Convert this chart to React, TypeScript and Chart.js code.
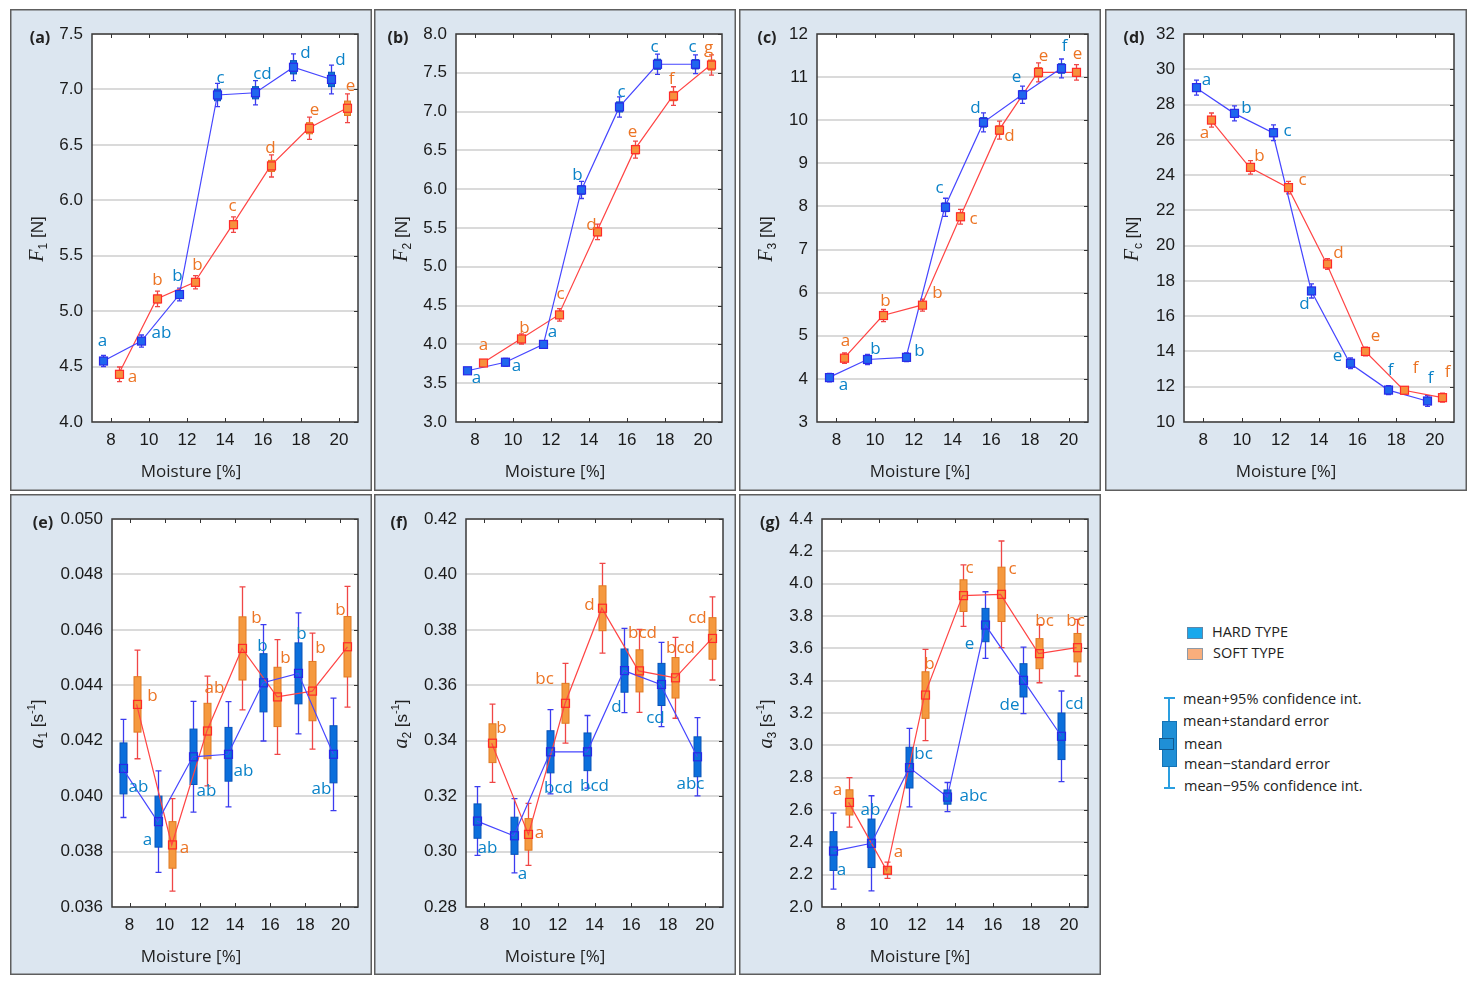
import React, { useEffect, useRef } from 'react';
import { Chart, registerables } from 'chart.js';

Chart.register(...registerables);

// moisture levels [%], hard type drawn left of the level, soft type right of it
const moisture = [8, 10, 12, 14, 16, 18, 20];
const xTicks = [8, 10, 12, 14, 16, 18, 20];

// (a) F1 [N]
const f1Ticks = [4.0, 4.5, 5.0, 5.5, 6.0, 6.5, 7.0, 7.5];
const f1Hard = [4.55, 4.73, 5.15, 6.95, 6.97, 7.2, 7.09];
const f1HardSe = [0.025, 0.028, 0.03, 0.052, 0.055, 0.06, 0.065];
const f1HardCi = [0.05, 0.055, 0.057, 0.105, 0.11, 0.12, 0.13];
const f1Soft = [4.43, 5.11, 5.26, 5.78, 6.31, 6.65, 6.83];
const f1SoftSe = [0.033, 0.035, 0.03, 0.035, 0.05, 0.05, 0.065];
const f1SoftCi = [0.066, 0.07, 0.06, 0.07, 0.1, 0.1, 0.13];
const f1HardLetters = ['a', 'ab', 'b', 'c', 'cd', 'd', 'd'];
const f1SoftLetters = ['a', 'b', 'b', 'c', 'd', 'e', 'e'];

// (b) F2 [N]
const f2Ticks = [3.0, 3.5, 4.0, 4.5, 5.0, 5.5, 6.0, 6.5, 7.0, 7.5, 8.0];
const f2Hard = [3.66, 3.77, 4.0, 5.99, 7.06, 7.61, 7.61];
const f2HardSe = [0.02, 0.025, 0.022, 0.055, 0.065, 0.065, 0.06];
const f2HardCi = [0.04, 0.05, 0.045, 0.11, 0.13, 0.13, 0.12];
const f2Soft = [3.76, 4.07, 4.38, 5.45, 6.51, 7.2, 7.6];
const f2SoftSe = [0.02, 0.033, 0.04, 0.05, 0.055, 0.06, 0.065];
const f2SoftCi = [0.04, 0.065, 0.08, 0.1, 0.11, 0.12, 0.13];
const f2HardLetters = ['a', 'a', 'a', 'b', 'c', 'c', 'c'];
const f2SoftLetters = ['a', 'b', 'c', 'd', 'e', 'f', 'g'];

// (c) F3 [N]
const f3Ticks = [3, 4, 5, 6, 7, 8, 9, 10, 11, 12];
const f3Hard = [4.03, 4.45, 4.5, 7.98, 9.95, 10.59, 11.2];
const f3HardSe = [0.05, 0.06, 0.05, 0.1, 0.11, 0.1, 0.11];
const f3HardCi = [0.1, 0.12, 0.1, 0.21, 0.22, 0.2, 0.22];
const f3Soft = [4.48, 5.47, 5.71, 7.76, 9.77, 11.11, 11.11];
const f3SoftSe = [0.06, 0.07, 0.07, 0.085, 0.1, 0.11, 0.09];
const f3SoftCi = [0.12, 0.14, 0.14, 0.17, 0.21, 0.22, 0.18];
const f3HardLetters = ['a', 'b', 'b', 'c', 'd', 'e', 'f'];
const f3SoftLetters = ['a', 'b', 'b', 'c', 'd', 'e', 'e'];

// (d) Fc [N]
const fcTicks = [10, 12, 14, 16, 18, 20, 22, 24, 26, 28, 30, 32];
const fcHard = [28.96, 27.5, 26.4, 17.43, 13.33, 11.81, 11.19];
const fcHardSe = [0.2, 0.2, 0.22, 0.2, 0.15, 0.12, 0.15];
const fcHardCi = [0.43, 0.43, 0.45, 0.4, 0.3, 0.25, 0.3];
const fcSoft = [27.12, 24.44, 23.29, 18.96, 14.0, 11.8, 11.38];
const fcSoftSe = [0.2, 0.19, 0.17, 0.15, 0.12, 0.1, 0.12];
const fcSoftCi = [0.4, 0.38, 0.35, 0.3, 0.25, 0.2, 0.25];
const fcHardLetters = ['a', 'b', 'c', 'd', 'e', 'f', 'f'];
const fcSoftLetters = ['a', 'b', 'c', 'd', 'e', 'f', 'f'];

// (e) a1 [s-1]
const a1Ticks = [0.036, 0.038, 0.04, 0.042, 0.044, 0.046, 0.048, 0.05];
const a1Hard = [0.041, 0.03908, 0.04142, 0.04151, 0.04409, 0.04443, 0.04151];
const a1HardSe = [0.00092, 0.00092, 0.001, 0.00097, 0.00105, 0.0011, 0.00103];
const a1HardCi = [0.00177, 0.00183, 0.002, 0.0019, 0.0021, 0.00218, 0.00203];
const a1Soft = [0.04331, 0.03824, 0.04235, 0.04533, 0.04358, 0.04379, 0.04539];
const a1SoftSe = [0.001, 0.00084, 0.001, 0.00114, 0.00107, 0.00107, 0.00109];
const a1SoftCi = [0.00196, 0.00167, 0.00198, 0.00222, 0.00207, 0.00209, 0.00218];
const a1HardLetters = ['ab', 'a', 'ab', 'ab', 'b', 'b', 'ab'];
const a1SoftLetters = ['b', 'a', 'ab', 'b', 'b', 'b', 'b'];

// (f) a2 [s-1]
const a2Ticks = [0.28, 0.3, 0.32, 0.34, 0.36, 0.38, 0.4, 0.42];
const a2Hard = [0.311, 0.3057, 0.336, 0.336, 0.3653, 0.3603, 0.3342];
const a2HardSe = [0.0062, 0.0067, 0.0076, 0.0068, 0.0078, 0.0076, 0.0072];
const a2HardCi = [0.0124, 0.0134, 0.0152, 0.0131, 0.0152, 0.0152, 0.0141];
const a2Soft = [0.3391, 0.3062, 0.3535, 0.3878, 0.3652, 0.3627, 0.3769];
const a2SoftSe = [0.007, 0.0057, 0.0072, 0.0081, 0.0076, 0.0073, 0.0075];
const a2SoftCi = [0.0141, 0.0112, 0.0144, 0.0162, 0.015, 0.0146, 0.015];
const a2HardLetters = ['ab', 'a', 'bcd', 'bcd', 'd', 'cd', 'abc'];
const a2SoftLetters = ['b', 'a', 'bc', 'd', 'bcd', 'bcd', 'cd'];

// (g) a3 [s-1]
const a3Ticks = [2.0, 2.2, 2.4, 2.6, 2.8, 3.0, 3.2, 3.4, 3.6, 3.8, 4.0, 4.2, 4.4];
const a3Hard = [2.346, 2.394, 2.862, 2.68, 3.744, 3.402, 3.056];
const a3HardSe = [0.12, 0.15, 0.126, 0.044, 0.103, 0.103, 0.144];
const a3HardCi = [0.235, 0.294, 0.243, 0.09, 0.206, 0.206, 0.28];
const a3Soft = [2.647, 2.227, 3.311, 3.926, 3.934, 3.567, 3.604];
const a3SoftSe = [0.078, 0.022, 0.144, 0.098, 0.168, 0.093, 0.088];
const a3SoftCi = [0.153, 0.05, 0.282, 0.19, 0.33, 0.18, 0.175];
const a3HardLetters = ['a', 'ab', 'bc', 'abc', 'e', 'de', 'cd'];
const a3SoftLetters = ['a', 'a', 'b', 'c', 'c', 'bc', 'bc'];

// letter placement relative to the mean marker, px
const aHardOff = [[-1, -20], [20, -8], [-2, -18], [3, -17], [7, -19], [12, -14], [9, -19]];
const aSoftOff = [[13, 3], [0, -19], [2, -17], [-1, -19], [-1, -18], [5, -18], [3, -22]];
const bHardOff = [[9, 7], [11, 4], [9, -12], [-4, -15], [2, -15], [-3, -17], [-3, -17]];
const bSoftOff = [[0, -18], [3, -11], [1, -21], [-6, -7], [-3, -17], [-2, -17], [-3, -17]];
const cHardOff = [[14, 8], [8, -10], [13, -6], [-6, -19], [-8, -14], [-6, -18], [3, -22]];
const cSoftOff = [[1, -17], [2, -14], [15, -12], [13, 2], [10, 6], [5, -16], [1, -18]];
const dHardOff = [[10, -7], [12, -5], [14, -2], [-7, 13], [-13, -7], [2, -20], [3, -23]];
const dSoftOff = [[-7, 13], [9, -11], [14, -7], [11, -11], [10, -15], [11, -22], [5, -26]];
const eHardOff = [[15, 19], [-11, 19], [13, 34], [15, 17], [-1, -37], [3, -39], [-12, 35]];
const eSoftOff = [[15, -8], [12, 3], [7, -43], [14, -30], [8, -39], [8, -43], [-7, -37]];
const fHardOff = [[10, 27], [8, 38], [8, 36], [7, 34], [-8, 37], [-6, 34], [-7, 27]];
const fSoftOff = [[9, -15], [11, -1], [-21, -24], [-13, -3], [3, -38], [5, -30], [-15, -20]];
const gHardOff = [[8, 19], [-1, -33], [14, -13], [26, -1], [-16, 19], [-14, 25], [13, -32]];
const gSoftOff = [[-12, -12], [11, -18], [4, -31], [6, -27], [11, -25], [5, -33], [-2, -27]];

const SHIFT = 0.4;
const SANS = '"Liberation Sans", Arial, sans-serif';
const UI = '"Open Sans", "Noto Sans", sans-serif';
const SERIF = '"Liberation Serif", "DejaVu Serif", serif';

const HARD = {
  line: '#4646ff', whisker: '#3c3cf0', box: '#0b6fdc', boxEdge: '#0a55b8',
  marker: '#2a2ae8', markerFill: '#1f67ee', text: '#0a82c8',
};
const SOFT = {
  line: '#ff4444', whisker: '#f04646', box: '#f5993f', boxEdge: '#e07a22',
  marker: '#ff2a2a', markerFill: '#f7903c', text: '#ec7424',
};

type Run = { t: string; font: string; dy: number };
type Series = { mean: number[]; se: number[]; ci: number[]; letters: string[]; off: number[][] };
type Panel = {
  id: string; kind: 'force' | 'rate'; ticks: number[]; dec: number; title: Run[];
  hard: Series; soft: Series;
  box: { x: number; y: number; w: number; h: number };
  plot: { l: number; r: number; t: number; b: number };
  labelX: number;
};

const forceTitle = (sub: string): Run[] => [
  { t: 'F', font: `italic 20px ${SERIF}`, dy: 0 },
  { t: sub, font: `12px ${SANS}`, dy: 4 },
  { t: ' [N]', font: `17px ${SANS}`, dy: 0 },
];
const rateTitle = (sub: string): Run[] => [
  { t: 'a', font: `italic 20px ${SERIF}`, dy: 0 },
  { t: sub, font: `12px ${SANS}`, dy: 4 },
  { t: ' [s', font: `17px ${SANS}`, dy: 0 },
  { t: '-1', font: `11px ${SANS}`, dy: -8 },
  { t: ']', font: `17px ${SANS}`, dy: 0 },
];

const top = { y: 9, w: 362, h: 482 };
const bot = { y: 494, w: 362, h: 481 };

const panels: Panel[] = [
  {
    id: 'a', kind: 'force', ticks: f1Ticks, dec: 1, title: forceTitle('1'),
    hard: { mean: f1Hard, se: f1HardSe, ci: f1HardCi, letters: f1HardLetters, off: aHardOff },
    soft: { mean: f1Soft, se: f1SoftSe, ci: f1SoftCi, letters: f1SoftLetters, off: aSoftOff },
    box: { x: 10, ...top }, plot: { l: 92, r: 358, t: 34, b: 422 }, labelX: 30,
  },
  {
    id: 'b', kind: 'force', ticks: f2Ticks, dec: 1, title: forceTitle('2'),
    hard: { mean: f2Hard, se: f2HardSe, ci: f2HardCi, letters: f2HardLetters, off: bHardOff },
    soft: { mean: f2Soft, se: f2SoftSe, ci: f2SoftCi, letters: f2SoftLetters, off: bSoftOff },
    box: { x: 374, ...top }, plot: { l: 456, r: 722, t: 34, b: 422 }, labelX: 24,
  },
  {
    id: 'c', kind: 'force', ticks: f3Ticks, dec: 0, title: forceTitle('3'),
    hard: { mean: f3Hard, se: f3HardSe, ci: f3HardCi, letters: f3HardLetters, off: cHardOff },
    soft: { mean: f3Soft, se: f3SoftSe, ci: f3SoftCi, letters: f3SoftLetters, off: cSoftOff },
    box: { x: 739, ...top }, plot: { l: 817, r: 1088, t: 34, b: 422 }, labelX: 28,
  },
  {
    id: 'd', kind: 'force', ticks: fcTicks, dec: 0, title: forceTitle('c'),
    hard: { mean: fcHard, se: fcHardSe, ci: fcHardCi, letters: fcHardLetters, off: dHardOff },
    soft: { mean: fcSoft, se: fcSoftSe, ci: fcSoftCi, letters: fcSoftLetters, off: dSoftOff },
    box: { x: 1105, ...top }, plot: { l: 1184, r: 1454, t: 34, b: 422 }, labelX: 29,
  },
  {
    id: 'e', kind: 'rate', ticks: a1Ticks, dec: 3, title: rateTitle('1'),
    hard: { mean: a1Hard, se: a1HardSe, ci: a1HardCi, letters: a1HardLetters, off: eHardOff },
    soft: { mean: a1Soft, se: a1SoftSe, ci: a1SoftCi, letters: a1SoftLetters, off: eSoftOff },
    box: { x: 10, ...bot }, plot: { l: 112, r: 358, t: 519, b: 907 }, labelX: 33,
  },
  {
    id: 'f', kind: 'rate', ticks: a2Ticks, dec: 2, title: rateTitle('2'),
    hard: { mean: a2Hard, se: a2HardSe, ci: a2HardCi, letters: a2HardLetters, off: fHardOff },
    soft: { mean: a2Soft, se: a2SoftSe, ci: a2SoftCi, letters: a2SoftLetters, off: fSoftOff },
    box: { x: 374, ...bot }, plot: { l: 466, r: 723, t: 519, b: 907 }, labelX: 25,
  },
  {
    id: 'g', kind: 'rate', ticks: a3Ticks, dec: 1, title: rateTitle('3'),
    hard: { mean: a3Hard, se: a3HardSe, ci: a3HardCi, letters: a3HardLetters, off: gHardOff },
    soft: { mean: a3Soft, se: a3SoftSe, ci: a3SoftCi, letters: a3SoftLetters, off: gSoftOff },
    box: { x: 739, ...bot }, plot: { l: 822, r: 1088, t: 519, b: 907 }, labelX: 31,
  },
];

function drawBars(chart: any, s: Series, shift: number, st: typeof HARD, kind: string) {
  const { ctx, scales } = chart;
  const bw = kind === 'rate' ? 7 : 6;
  const cap = kind === 'rate' ? 6 : 5;
  ctx.save();
  s.mean.forEach((m, i) => {
    const px = Math.round(scales.x.getPixelForValue(moisture[i] + shift)) + 0.5;
    const ciT = scales.y.getPixelForValue(m + s.ci[i]);
    const ciB = scales.y.getPixelForValue(m - s.ci[i]);
    const seT = scales.y.getPixelForValue(m + s.se[i]);
    const seB = scales.y.getPixelForValue(m - s.se[i]);
    ctx.strokeStyle = st.whisker;
    ctx.lineWidth = 1.3;
    ctx.beginPath();
    ctx.moveTo(px, ciT); ctx.lineTo(px, ciB);
    ctx.moveTo(px - cap / 2, ciT); ctx.lineTo(px + cap / 2, ciT);
    ctx.moveTo(px - cap / 2, ciB); ctx.lineTo(px + cap / 2, ciB);
    ctx.stroke();
    ctx.fillStyle = st.box;
    ctx.fillRect(px - bw / 2, seT, bw, seB - seT);
    ctx.strokeStyle = st.boxEdge;
    ctx.lineWidth = 1;
    ctx.strokeRect(px - bw / 2, seT, bw, seB - seT);
  });
  ctx.restore();
}

function drawMarks(chart: any, s: Series, shift: number, st: typeof HARD, kind: string) {
  const { ctx, scales } = chart;
  ctx.save();
  ctx.font = `17px ${UI}`;
  ctx.textAlign = 'center';
  ctx.textBaseline = 'middle';
  s.mean.forEach((m, i) => {
    const px = Math.round(scales.x.getPixelForValue(moisture[i] + shift)) + 0.5;
    const py = scales.y.getPixelForValue(m);
    const side = 8;
    if (kind === 'force') {
      ctx.fillStyle = st.markerFill;
      ctx.fillRect(px - side / 2, py - side / 2, side, side);
    }
    ctx.strokeStyle = st.marker;
    ctx.lineWidth = 1.2;
    ctx.strokeRect(px - side / 2, py - side / 2, side, side);
    ctx.fillStyle = st.text;
    ctx.fillText(s.letters[i], px + s.off[i][0], py + s.off[i][1]);
  });
  ctx.restore();
}

function drawRuns(ctx: CanvasRenderingContext2D, runs: Run[], cx: number, cy: number) {
  ctx.save();
  ctx.translate(cx, cy);
  ctx.rotate(-Math.PI / 2);
  ctx.textBaseline = 'alphabetic';
  ctx.textAlign = 'left';
  const widths = runs.map((r) => { ctx.font = r.font; return ctx.measureText(r.t).width; });
  let x = -widths.reduce((a, b) => a + b, 0) / 2;
  runs.forEach((r, i) => {
    ctx.font = r.font;
    ctx.fillStyle = '#222';
    ctx.fillText(r.t, x, 6 + r.dy);
    x += widths[i];
  });
  ctx.restore();
}

const panelPlugin = (p: Panel) => ({
  id: 'panel' + p.id,
  beforeDraw(chart: any) {
    const { ctx, chartArea: a, width, height } = chart;
    ctx.save();
    ctx.fillStyle = '#dce6f0';
    ctx.fillRect(0, 0, width, height);
    ctx.strokeStyle = '#5e5e5e';
    ctx.lineWidth = 1.5;
    ctx.strokeRect(0.75, 0.75, width - 1.5, height - 1.5);
    ctx.fillStyle = '#ffffff';
    ctx.fillRect(a.left, a.top, a.right - a.left, a.bottom - a.top);
    ctx.restore();
  },
  beforeDatasetsDraw(chart: any) {
    drawBars(chart, p.hard, -SHIFT, HARD, p.kind);
    drawBars(chart, p.soft, SHIFT, SOFT, p.kind);
  },
  afterDatasetsDraw(chart: any) {
    drawMarks(chart, p.hard, -SHIFT, HARD, p.kind);
    drawMarks(chart, p.soft, SHIFT, SOFT, p.kind);
  },
  afterDraw(chart: any) {
    const { ctx, chartArea: a, scales, width } = chart;
    ctx.save();
    // short inward tick marks on every side
    ctx.strokeStyle = '#333';
    ctx.lineWidth = 1;
    ctx.beginPath();
    xTicks.forEach((v) => {
      const px = Math.round(scales.x.getPixelForValue(v)) + 0.5;
      ctx.moveTo(px, a.top); ctx.lineTo(px, a.top + 4);
      ctx.moveTo(px, a.bottom); ctx.lineTo(px, a.bottom - 4);
    });
    p.ticks.forEach((v) => {
      const py = Math.round(scales.y.getPixelForValue(v)) + 0.5;
      ctx.moveTo(a.right, py); ctx.lineTo(a.right - 4, py);
    });
    ctx.stroke();
    ctx.strokeStyle = '#3a3a3a';
    ctx.lineWidth = 1.5;
    ctx.strokeRect(a.left, a.top, a.right - a.left, a.bottom - a.top);
    // axis titles and panel label
    ctx.fillStyle = '#222';
    ctx.font = `17px ${UI}`;
    ctx.textAlign = 'center';
    ctx.textBaseline = 'middle';
    ctx.fillText('Moisture [%]', width / 2, 463);
    ctx.font = `bold 16px ${UI}`;
    ctx.fillText(`(${p.id})`, p.labelX, 29);
    ctx.restore();
    drawRuns(ctx, p.title, 27, 230);
  },
});

const buildConfig = (p: Panel): any => ({
  type: 'line',
  data: {
    datasets: [
      {
        label: 'HARD TYPE',
        data: p.hard.mean.map((v, i) => ({ x: moisture[i] - SHIFT, y: v })),
        borderColor: HARD.line,
        borderWidth: 1.2,
        pointRadius: 0,
        fill: false,
      },
      {
        label: 'SOFT TYPE',
        data: p.soft.mean.map((v, i) => ({ x: moisture[i] + SHIFT, y: v })),
        borderColor: SOFT.line,
        borderWidth: 1.2,
        pointRadius: 0,
        fill: false,
      },
    ],
  },
  options: {
    responsive: false,
    animation: false,
    events: [],
    layout: {
      padding: { left: 0, top: p.plot.t - p.box.y, right: p.box.x + p.box.w - p.plot.r, bottom: 0 },
    },
    plugins: { legend: { display: false }, tooltip: { enabled: false } },
    scales: {
      x: {
        type: 'linear',
        min: 7,
        max: 21,
        afterBuildTicks: (ax: any) => { ax.ticks = xTicks.map((v) => ({ value: v })); },
        afterFit: (ax: any) => { ax.height = p.box.y + p.box.h - p.plot.b; },
        grid: { display: false, drawTicks: false },
        border: { display: false },
        ticks: {
          autoSkip: false, maxRotation: 0, padding: 8, color: '#1a1a1a',
          font: { family: SANS, size: 17 },
          callback: (v: any) => String(v),
        },
      },
      y: {
        type: 'linear',
        min: p.ticks[0],
        max: p.ticks[p.ticks.length - 1],
        afterBuildTicks: (ax: any) => { ax.ticks = p.ticks.map((v) => ({ value: v })); },
        afterFit: (ax: any) => { ax.width = p.plot.l - p.box.x; },
        grid: { color: '#dadada', lineWidth: 2, drawTicks: false },
        border: { display: false },
        ticks: {
          autoSkip: false, padding: 9, color: '#1a1a1a',
          font: { family: SANS, size: 17 },
          callback: (v: any) => Number(v).toFixed(p.dec),
        },
      },
    },
  },
  plugins: [panelPlugin(p)],
});

const PanelChart = ({ p }: { p: Panel }) => {
  const chartRef = useRef<HTMLCanvasElement | null>(null);
  const chartInstance = useRef<Chart | null>(null);

  useEffect(() => {
    if (!chartRef.current) return;
    if (chartInstance.current) chartInstance.current.destroy();
    chartInstance.current = new Chart(chartRef.current, buildConfig(p));
    return () => {
      if (chartInstance.current) {
        chartInstance.current.destroy();
        chartInstance.current = null;
      }
    };
  }, [p]);

  return (
    <canvas
      ref={chartRef}
      width={p.box.w}
      height={p.box.h}
      style={{ position: 'absolute', left: p.box.x, top: p.box.y, width: p.box.w, height: p.box.h }}
    />
  );
};

const legendText: React.CSSProperties = {
  position: 'absolute', fontFamily: UI, fontSize: 14.5, color: '#222',
  lineHeight: '18px', whiteSpace: 'nowrap',
};

const Legend = () => (
  <>
    <div style={{ position: 'absolute', left: 1187, top: 627, width: 14, height: 10, background: '#18a8ec', border: '1px solid #5f86a8' }} />
    <div style={{ ...legendText, left: 1212, top: 623 }}>HARD TYPE</div>
    <div style={{ position: 'absolute', left: 1187, top: 648, width: 14, height: 10, background: '#f9ae7c', border: '1px solid #8f9aa6' }} />
    <div style={{ ...legendText, left: 1213, top: 644 }}>SOFT TYPE</div>

    <div style={{ position: 'absolute', left: 1168, top: 698, width: 1.5, height: 90, background: '#2a9ee0' }} />
    <div style={{ position: 'absolute', left: 1164, top: 697, width: 11, height: 1.5, background: '#2a9ee0' }} />
    <div style={{ position: 'absolute', left: 1164, top: 787, width: 11, height: 1.5, background: '#2a9ee0' }} />
    <div style={{ position: 'absolute', left: 1162, top: 721, width: 13, height: 44, background: '#1f8fd6', border: '1px solid #1573b5' }} />
    <div style={{ position: 'absolute', left: 1159, top: 738, width: 13, height: 10, background: '#1f8fd6', border: '1px solid #0f5a92' }} />

    <div style={{ ...legendText, left: 1183, top: 690 }}>mean+95% confidence int.</div>
    <div style={{ ...legendText, left: 1183, top: 712 }}>mean+standard error</div>
    <div style={{ ...legendText, left: 1184, top: 735 }}>mean</div>
    <div style={{ ...legendText, left: 1184, top: 755 }}>mean−standard error</div>
    <div style={{ ...legendText, left: 1184, top: 777 }}>mean−95% confidence int.</div>
  </>
);

export default function App() {
  return (
    <div style={{ position: 'absolute', left: 0, top: 0, width: 1477, height: 985, background: '#ffffff', overflow: 'hidden' }}>
      {panels.map((p) => (
        <PanelChart key={p.id} p={p} />
      ))}
      <Legend />
    </div>
  );
}
